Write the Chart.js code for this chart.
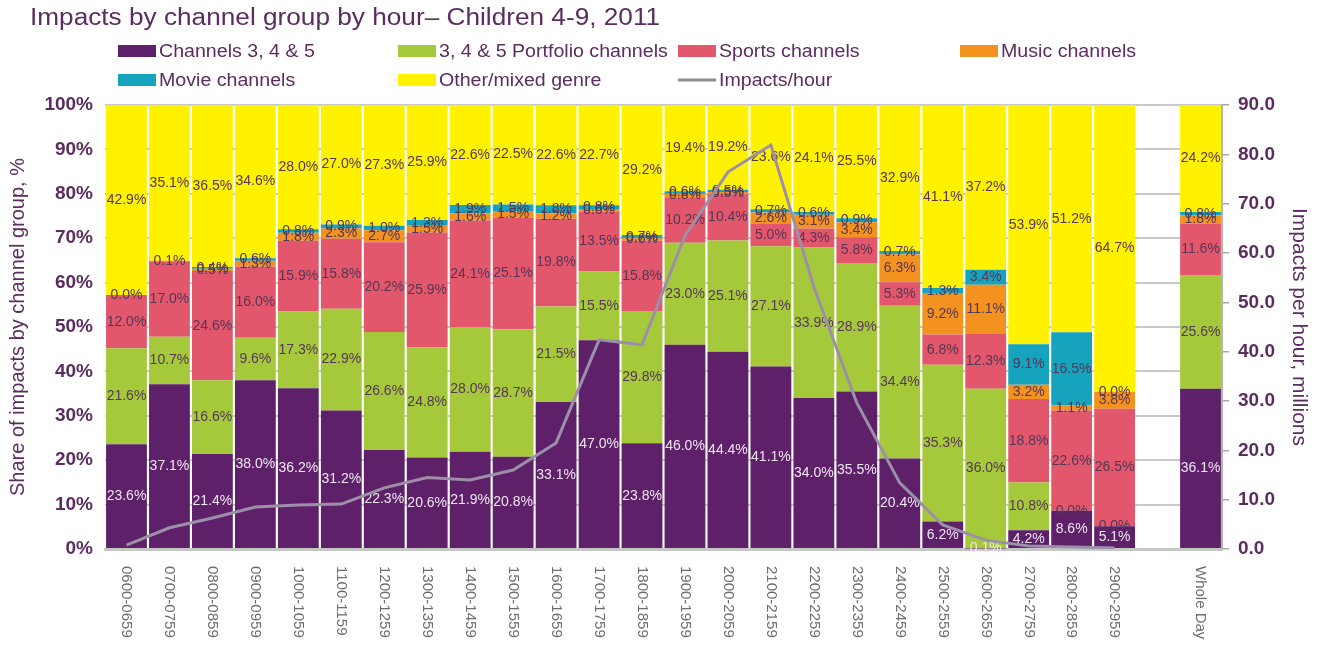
<!DOCTYPE html>
<html>
<head>
<meta charset="utf-8">
<script src="https://cdn.jsdelivr.net/npm/chart.js@4.4.1/dist/chart.umd.min.js"></script>
<style>
  html, body { margin: 0; padding: 0; background: #fff; }
  #wrap { width: 1322px; height: 651px; position: relative; }
</style>
</head>
<body>
<div id="wrap"><canvas id="chart" width="1322" height="651"></canvas></div>
<script>
// categories (empty slot before the whole-day bar)
const hours = ['0600-0659', '0700-0759', '0800-0859', '0900-0959', '1000-1059', '1100-1159',
  '1200-1259', '1300-1359', '1400-1459', '1500-1559', '1600-1659', '1700-1759', '1800-1859',
  '1900-1959', '2000-2059', '2100-2159', '2200-2259', '2300-2359', '2400-2459', '2500-2559',
  '2600-2659', '2700-2759', '2800-2859', '2900-2959', '', 'Whole Day'];

// share of impacts, %
const channels345 = [23.6, 37.1, 21.4, 38.0, 36.2, 31.2, 22.3, 20.6, 21.9, 20.8, 33.1, 47.0, 23.8,
  46.0, 44.4, 41.1, 34.0, 35.5, 20.4, 6.2, 0.1, 4.2, 8.6, 5.1, null, 36.1];
const portfolio = [21.6, 10.7, 16.6, 9.6, 17.3, 22.9, 26.6, 24.8, 28.0, 28.7, 21.5, 15.5, 29.8,
  23.0, 25.1, 27.1, 33.9, 28.9, 34.4, 35.3, 36.0, 10.8, 0.0, 0.0, null, 25.6];
const sports = [12.0, 17.0, 24.6, 16.0, 15.9, 15.8, 20.2, 25.9, 24.1, 25.1, 19.8, 13.5, 15.8,
  10.2, 10.4, 5.0, 4.3, 5.8, 5.3, 6.8, 12.3, 18.8, 22.6, 26.5, null, 11.6];
const music = [0.0, 0.1, 0.5, 1.3, 1.8, 2.3, 2.7, 1.5, 1.6, 1.5, 1.2, 0.6, 0.6,
  0.8, 0.5, 2.6, 3.1, 3.4, 6.3, 9.2, 11.1, 3.2, 1.1, 3.8, null, 1.8];
const movie = [null, null, 0.4, 0.6, 0.8, 0.9, 1.0, 1.3, 1.9, 1.5, 1.8, 0.8, 0.7,
  0.6, 0.5, 0.7, 0.6, 0.9, 0.7, 1.3, 3.4, 9.1, 16.5, 0.0, null, 0.8];
const other = [42.9, 35.1, 36.5, 34.6, 28.0, 27.0, 27.3, 25.9, 22.6, 22.5, 22.6, 22.7, 29.2,
  19.4, 19.2, 23.6, 24.1, 25.5, 32.9, 41.1, 37.2, 53.9, 51.2, 64.7, null, 24.2];

// impacts per hour, millions
const impactsPerHour = [0.8, 4.3, 6.3, 8.5, 8.9, 9.1, 12.4, 14.5, 14.0, 16.0, 21.5, 42.4, 41.4,
  63.5, 76.4, 81.9, 53.1, 29.6, 13.4, 4.9, 1.8, 0.6, 0.4, 0.2, null, null];

const shareTicks = [0, 10, 20, 30, 40, 50, 60, 70, 80, 90, 100];
const impactTicks = [0, 10, 20, 30, 40, 50, 60, 70, 80, 90];

const FONT = "'Liberation Sans', Arial, sans-serif";
const PURPLE_TEXT = '#5b2c5f';
const SX = 1.12; // the source picture is a little stretched sideways

Chart.defaults.font.family = FONT;

function stretchText(ctx, text, x, y, sx) {
  ctx.save();
  ctx.translate(x, y);
  ctx.scale(sx, 1);
  ctx.fillText(text, 0, 0);
  ctx.restore();
}

// title + 4 column legend
const headerPlugin = {
  id: 'header',
  afterDraw(chart) {
    const ctx = chart.ctx;
    ctx.save();
    ctx.fillStyle = PURPLE_TEXT;
    ctx.textBaseline = 'middle';
    ctx.textAlign = 'left';
    ctx.font = '23px ' + FONT;
    stretchText(ctx, 'Impacts by channel group by hour\u2013 Children 4-9, 2011', 30, 19, SX * 1.017);

    const cols = [118, 398, 678, 960];
    const rows = [51, 80];
    ctx.font = '17.5px ' + FONT;
    chart.data.datasets.forEach((ds, i) => {
      const x = cols[i % 4];
      const y = rows[Math.floor(i / 4)];
      if (ds.type === 'line') {
        ctx.strokeStyle = '#8e8e8e';
        ctx.lineWidth = 3;
        ctx.beginPath();
        ctx.moveTo(x, y);
        ctx.lineTo(x + 38, y);
        ctx.stroke();
      } else {
        ctx.fillStyle = ds.backgroundColor;
        ctx.fillRect(x, y - 6, 38, 12);
      }
      ctx.fillStyle = PURPLE_TEXT;
      stretchText(ctx, ds.label, x + 41, y + 1, SX);
    });
    ctx.restore();
  }
};

// value labels inside the bar segments, drawn before the line so it sits on top
const valueLabels = {
  id: 'valueLabels',
  beforeDatasetDraw(chart, args) {
    if (args.meta.type !== 'line') return;
    const ctx = chart.ctx;
    ctx.save();
    ctx.font = '14px ' + FONT;
    ctx.textAlign = 'center';
    ctx.textBaseline = 'middle';
    chart.data.datasets.forEach((ds, di) => {
      if (ds.type === 'line') return;
      const meta = chart.getDatasetMeta(di);
      ctx.fillStyle = di === 0 ? '#efe6f2' : '#553656';
      meta.data.forEach((el, i) => {
        const v = ds.data[i];
        if (v === null || v === undefined) return;
        ctx.fillText(v.toFixed(1) + '%', el.x, (el.y + el.base) / 2);
      });
    });
    ctx.restore();
  }
};

// category labels read top to bottom
const xLabels = {
  id: 'xLabels',
  afterDraw(chart) {
    const ctx = chart.ctx;
    const xs = chart.scales.x;
    ctx.save();
    ctx.font = '15px ' + FONT;
    ctx.fillStyle = '#6e6e6e';
    ctx.textAlign = 'left';
    ctx.textBaseline = 'middle';
    chart.data.labels.forEach((lab, i) => {
      if (!lab) return;
      ctx.save();
      ctx.translate(xs.getPixelForValue(i), chart.chartArea.bottom + 17);
      ctx.rotate(Math.PI / 2);
      ctx.fillText(lab, 0, 0);
      ctx.restore();
    });
    ctx.restore();
  }
};

const tickFont = { family: FONT, size: 19, weight: 'bold' };

new Chart(document.getElementById('chart'), {
  type: 'bar',
  data: {
    labels: hours,
    datasets: [
      { label: 'Channels 3, 4 & 5', data: channels345, backgroundColor: '#5e2068', order: 1 },
      { label: '3, 4 & 5 Portfolio channels', data: portfolio, backgroundColor: '#a6c93c', order: 1 },
      { label: 'Sports channels', data: sports, backgroundColor: '#e2576b', order: 1 },
      { label: 'Music channels', data: music, backgroundColor: '#f4921f', order: 1 },
      { label: 'Movie channels', data: movie, backgroundColor: '#15a3bd', order: 1 },
      { label: 'Other/mixed genre', data: other, backgroundColor: '#fff200', order: 1 },
      {
        type: 'line', label: 'Impacts/hour', data: impactsPerHour, yAxisID: 'y2', order: 0,
        borderColor: '#9c90a9', borderWidth: 3, pointRadius: 0, tension: 0, fill: false
      }
    ]
  },
  options: {
    responsive: false,
    animation: false,
    devicePixelRatio: 1,
    layout: { padding: { top: 105, left: 0, right: 0, bottom: 0 } },
    barPercentage: 0.95,
    categoryPercentage: 1,
    plugins: { legend: { display: false }, tooltip: { enabled: false } },
    scales: {
      x: {
        stacked: true,
        grid: { display: false, drawTicks: false },
        border: { display: true, color: '#c6c6c6', width: 3 },
        ticks: { display: false },
        afterFit: s => { s.height = 102; }
      },
      y: {
        stacked: true,
        position: 'left',
        min: 0,
        max: 100,
        afterBuildTicks: s => { s.ticks = shareTicks.map(v => ({ value: v })); },
        ticks: { callback: v => v + '%', padding: 12, color: PURPLE_TEXT, font: tickFont },
        grid: { color: '#c9c9c9', lineWidth: 2, drawTicks: false },
        border: { display: false },
        title: {
          display: true, text: 'Share of impacts by channel group, %', color: PURPLE_TEXT,
          font: { family: FONT, size: 20 }, padding: { top: 6, bottom: 0 }
        },
        afterFit: s => { s.width = 105; }
      },
      y2: {
        position: 'right',
        min: 0,
        max: 90,
        afterBuildTicks: s => { s.ticks = impactTicks.map(v => ({ value: v })); },
        ticks: { callback: v => Number(v).toFixed(1), padding: 9, color: PURPLE_TEXT, font: tickFont },
        grid: { drawOnChartArea: false, drawTicks: true, tickLength: 7, color: '#a8a8a8', lineWidth: 1.5 },
        border: { display: true, color: '#b4b4b4', width: 2 },
        title: {
          display: true, text: 'Impacts per hour, millions', color: PURPLE_TEXT,
          font: { family: FONT, size: 21 }, padding: { top: 11, bottom: 0 }
        },
        afterFit: s => { s.width = 100; }
      }
    }
  },
  plugins: [headerPlugin, valueLabels, xLabels]
});
</script>
</body>
</html>
